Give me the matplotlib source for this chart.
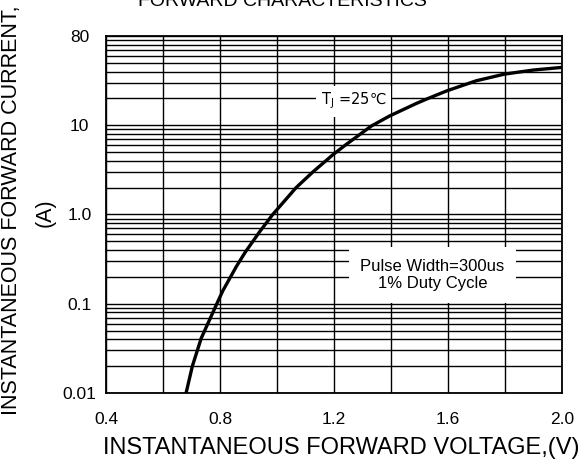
import matplotlib.pyplot as plt
from matplotlib.ticker import FixedLocator, NullFormatter

voltaje = [0.681, 0.703, 0.734, 0.787, 0.810, 0.857, 0.889, 0.939, 0.985,
           1.067, 1.126, 1.197, 1.243, 1.331, 1.395, 1.488, 1.524, 1.596,
           1.699, 1.798, 1.898, 2.0]
corriente = [0.01, 0.02, 0.041, 0.097, 0.140, 0.26, 0.38, 0.64, 1.0,
             2.0, 3.0, 4.7, 6.1, 9.8, 12.7, 17.5, 19.6, 24.3,
             31.5, 37.4, 41.5, 44.5]

x_ticks = [0.4, 0.8, 1.2, 1.6, 2.0]
x_labels = ["0.4", "0.8", "1.2", "1.6", "2.0"]
x_grid = [0.4, 0.6, 0.8, 1.0, 1.2, 1.4, 1.6, 1.8, 2.0]
y_ticks = [0.01, 0.1, 1, 10, 100]
y_labels = ["0.01", "0.1", "1.0", "10", "80"]

plt.rcParams['font.family'] = ['Liberation Sans', 'DejaVu Sans']
plt.rcParams['mathtext.fontset'] = 'dejavusans'

fig = plt.figure(figsize=(5.78, 4.65), dpi=100)
ax = fig.add_axes([106 / 578, 72 / 465, 456 / 578, 357 / 465])

ax.set_yscale('log')
ax.set_xlim(0.4, 2.0)
ax.set_ylim(0.01, 100)

# Rejilla: líneas verticales cada 0.2 V y todas las menores logarítmicas
ax.xaxis.set_major_locator(FixedLocator(x_ticks))
ax.xaxis.set_minor_locator(FixedLocator(x_grid))
ax.yaxis.set_major_locator(FixedLocator(y_ticks))
ax.yaxis.set_minor_locator(FixedLocator(
    [m * 10.0 ** e for e in range(-2, 2) for m in range(2, 10)]))
ax.yaxis.set_minor_formatter(NullFormatter())
ax.set_xticklabels(x_labels, fontsize=12.5)
ax.set_yticklabels(y_labels, fontsize=12.5, ha='center')
ax.grid(True, which='both', color='black', linewidth=1.0)
ax.tick_params(which='both', length=0)
ax.tick_params(axis='x', pad=14)
ax.tick_params(axis='y', pad=19)
for s in ax.spines.values():
    s.set_linewidth(1.3)

ax.plot(voltaje, corriente, color='black', linewidth=2.4, zorder=5)

ax.text(1.268, 18.6, r'T$_\mathrm{J}$ =25℃', fontsize=10.5, family='DejaVu Sans',
        ha='center', va='center',
        bbox=dict(boxstyle='square,pad=0.35', fc='white', ec='none'), zorder=4)
ax.text(1.545, 0.21, "Pulse Width=300us\n1% Duty Cycle", fontsize=12,
        ha='center', va='center', linespacing=1.15,
        bbox=dict(boxstyle='square,pad=0.7', fc='white', ec='none'), zorder=4)

fig.text(282 / 578, 1 - 6 / 465, "FORWARD CHARACTERISTICS", fontsize=14,
         ha='center', va='baseline')
fig.text(341 / 578, 1 - 448 / 465, "INSTANTANEOUS FORWARD VOLTAGE,(V)",
         fontsize=17, ha='center', va='center')
fig.text(12 / 578, 1 - 415 / 465, "INSTANTANEOUS FORWARD CURRENT,",
         fontsize=15.5, rotation=90, ha='center', va='bottom')
fig.text(45 / 578, 1 - 213 / 465, "(A)", fontsize=15.5, rotation=90,
         ha='center', va='center')

fig.savefig('out.png', dpi=100)
